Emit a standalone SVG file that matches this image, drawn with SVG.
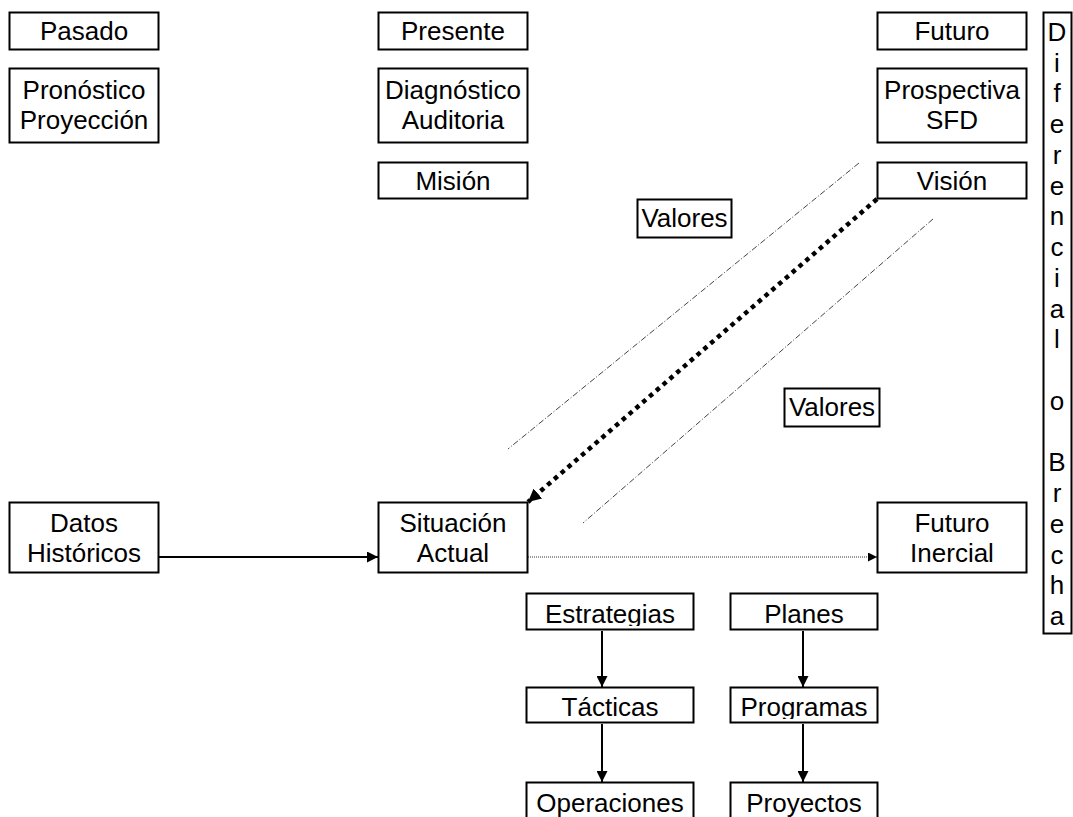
<svg xmlns="http://www.w3.org/2000/svg" width="1073" height="817" viewBox="0 0 1073 817">
  <style>
    .box { fill: #fff; stroke: #000; stroke-width: 2; }
    .t { font-family: "Liberation Sans", Arial, sans-serif; font-size: 26px; fill: #000; text-anchor: middle; }
    .solid { fill: none; stroke: #000; stroke-width: 2; }
    .fine-dot { fill: none; stroke: #333; stroke-width: 1; stroke-dasharray: 1 1; }
    .gap { fill: none; stroke: #000; stroke-width: 4.5; stroke-dasharray: 4.5 4.5; }
    .guide { fill: none; stroke: #444; stroke-width: 1; stroke-dasharray: 6 2 1 2; }
  </style>
  <defs>
    <marker id="arrow" markerUnits="userSpaceOnUse" viewBox="0 0 10 10" refX="10" refY="5" markerWidth="11" markerHeight="11" orient="auto">
      <path d="M0,0 L10,5 L0,10 z" fill="#000"/>
    </marker>
    <marker id="arrow-small" markerUnits="userSpaceOnUse" viewBox="0 0 10 10" refX="10" refY="5" markerWidth="9" markerHeight="9" orient="auto">
      <path d="M0,0 L10,5 L0,10 z" fill="#000"/>
    </marker>
    <marker id="arrow-big" markerUnits="userSpaceOnUse" viewBox="0 0 10 10" refX="10" refY="5" markerWidth="13" markerHeight="13" orient="auto">
      <path d="M0,0 L10,5 L0,10 z" fill="#000"/>
    </marker>
    <!-- text in the lower boxes is cut off just inside each frame -->
    <clipPath id="inner-lower">
      <rect x="527" y="594" width="166" height="32"/>
      <rect x="731" y="594" width="146" height="32"/>
      <rect x="527" y="688" width="166" height="31"/>
      <rect x="731" y="688" width="146" height="31"/>
      <rect x="527" y="783" width="166" height="34"/>
      <rect x="731" y="783" width="146" height="34"/>
    </clipPath>
  </defs>

  <!-- connectors -->
  <g id="connectors">
    <line class="guide" x1="859" y1="163" x2="508" y2="449"/>
    <line class="guide" x1="933" y1="219" x2="583" y2="523"/>
    <line class="gap" x1="877" y1="199" x2="528" y2="502" marker-end="url(#arrow-big)"/>
    <line class="solid" x1="159" y1="557" x2="378" y2="557" marker-end="url(#arrow)"/>
    <line class="fine-dot" x1="528" y1="557" x2="877" y2="557" marker-end="url(#arrow-small)"/>
    <line class="solid" x1="602" y1="631" x2="602" y2="687" marker-end="url(#arrow)"/>
    <line class="solid" x1="602" y1="724" x2="602" y2="782" marker-end="url(#arrow)"/>
    <line class="solid" x1="803" y1="631" x2="803" y2="687" marker-end="url(#arrow)"/>
    <line class="solid" x1="803" y1="724" x2="803" y2="782" marker-end="url(#arrow)"/>
  </g>

  <!-- time columns -->
  <g id="pasado">
    <rect class="box" x="9.5" y="12.5" width="149" height="37"/>
    <text class="t" x="84" y="40">Pasado</text>
  </g>
  <g id="pronostico">
    <rect class="box" x="9.5" y="68.5" width="149" height="74"/>
    <text class="t" x="84" y="99">Pronóstico</text>
    <text class="t" x="84" y="129">Proyección</text>
  </g>
  <g id="presente">
    <rect class="box" x="378.5" y="12.5" width="149" height="37"/>
    <text class="t" x="453" y="40">Presente</text>
  </g>
  <g id="diagnostico">
    <rect class="box" x="378.5" y="68.5" width="149" height="74"/>
    <text class="t" x="453" y="99">Diagnóstico</text>
    <text class="t" x="453" y="129">Auditoria</text>
  </g>
  <g id="mision">
    <rect class="box" x="378.5" y="162.5" width="149" height="36"/>
    <text class="t" x="453" y="190">Misión</text>
  </g>
  <g id="futuro">
    <rect class="box" x="877.5" y="12.5" width="149" height="37"/>
    <text class="t" x="952" y="40">Futuro</text>
  </g>
  <g id="prospectiva">
    <rect class="box" x="877.5" y="68.5" width="149" height="74"/>
    <text class="t" x="952" y="99">Prospectiva</text>
    <text class="t" x="952" y="129">SFD</text>
  </g>
  <g id="vision">
    <rect class="box" x="877.5" y="162.5" width="149" height="36"/>
    <text class="t" x="952" y="190">Visión</text>
  </g>

  <!-- values labels -->
  <g id="valores-1">
    <rect class="box" x="637.5" y="199.5" width="94" height="38"/>
    <text class="t" x="684.5" y="227">Valores</text>
  </g>
  <g id="valores-2">
    <rect class="box" x="784.5" y="388.5" width="95" height="38"/>
    <text class="t" x="832" y="416">Valores</text>
  </g>

  <!-- gap column -->
  <g id="diferencial">
    <rect class="box" x="1043.5" y="12.5" width="28" height="621"/>
    <text class="t" x="1057" y="41">D<tspan x="1057" dy="30.74">i</tspan><tspan x="1057" dy="30.74">f</tspan><tspan x="1057" dy="30.74">e</tspan><tspan x="1057" dy="30.74">r</tspan><tspan x="1057" dy="30.74">e</tspan><tspan x="1057" dy="30.74">n</tspan><tspan x="1057" dy="30.74">c</tspan><tspan x="1057" dy="30.74">i</tspan><tspan x="1057" dy="30.74">a</tspan><tspan x="1057" dy="30.74">l</tspan><tspan x="1057" dy="61.48">o</tspan><tspan x="1057" dy="61.48">B</tspan><tspan x="1057" dy="30.74">r</tspan><tspan x="1057" dy="30.74">e</tspan><tspan x="1057" dy="30.74">c</tspan><tspan x="1057" dy="30.74">h</tspan><tspan x="1057" dy="30.74">a</tspan></text>
  </g>

  <!-- current situation row -->
  <g id="datos-historicos">
    <rect class="box" x="9.5" y="502.5" width="149" height="70"/>
    <text class="t" x="84" y="532">Datos</text>
    <text class="t" x="84" y="562">Históricos</text>
  </g>
  <g id="situacion-actual">
    <rect class="box" x="378.5" y="502.5" width="149" height="70"/>
    <text class="t" x="453" y="532">Situación</text>
    <text class="t" x="453" y="562">Actual</text>
  </g>
  <g id="futuro-inercial">
    <rect class="box" x="877.5" y="502.5" width="149" height="70"/>
    <text class="t" x="952" y="532">Futuro</text>
    <text class="t" x="952" y="562">Inercial</text>
  </g>

  <!-- implementation chains -->
  <g id="estrategias">
    <rect class="box" x="526.5" y="593.5" width="167" height="36"/>
    <text class="t" x="610" y="623" clip-path="url(#inner-lower)">Estrategias</text>
  </g>
  <g id="tacticas">
    <rect class="box" x="526.5" y="687.5" width="167" height="35"/>
    <text class="t" x="610" y="716" clip-path="url(#inner-lower)">Tácticas</text>
  </g>
  <g id="operaciones">
    <rect class="box" x="526.5" y="782.5" width="167" height="40"/>
    <text class="t" x="610" y="812" clip-path="url(#inner-lower)">Operaciones</text>
  </g>
  <g id="planes">
    <rect class="box" x="730.5" y="593.5" width="147" height="36"/>
    <text class="t" x="804" y="623" clip-path="url(#inner-lower)">Planes</text>
  </g>
  <g id="programas">
    <rect class="box" x="730.5" y="687.5" width="147" height="35"/>
    <text class="t" x="804" y="716" clip-path="url(#inner-lower)">Programas</text>
  </g>
  <g id="proyectos">
    <rect class="box" x="730.5" y="782.5" width="147" height="40"/>
    <text class="t" x="804" y="812" clip-path="url(#inner-lower)">Proyectos</text>
  </g>
</svg>
